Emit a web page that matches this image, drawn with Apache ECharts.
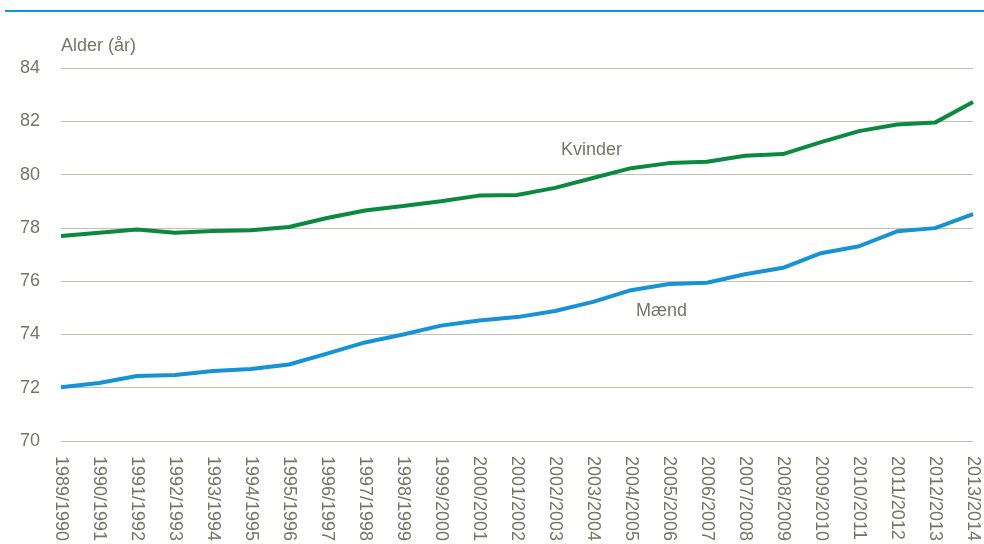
<!DOCTYPE html>
<html>
<head>
<meta charset="utf-8">
<script src="https://cdn.jsdelivr.net/npm/echarts@6/dist/echarts.min.js"></script>
<style>
  html, body { margin: 0; padding: 0; background: #fff; }
  #main { width: 984px; height: 544px; }
</style>
</head>
<body>
<div id="main"></div>
<script type="text/javascript">
    // sæsoner
    var seasons = ['1989/1990', '1990/1991', '1991/1992', '1992/1993', '1993/1994', '1994/1995',
        '1995/1996', '1996/1997', '1997/1998', '1998/1999', '1999/2000', '2000/2001', '2001/2002',
        '2002/2003', '2003/2004', '2004/2005', '2005/2006', '2006/2007', '2007/2008', '2008/2009',
        '2009/2010', '2010/2011', '2011/2012', '2012/2013', '2013/2014'];
    var kvinder = [77.69, 77.82, 77.94, 77.82, 77.88, 77.91, 78.03, 78.37, 78.65, 78.82, 79.0, 79.21,
        79.23, 79.5, 79.87, 80.24, 80.43, 80.48, 80.71, 80.77, 81.22, 81.63, 81.88, 81.95, 82.72];
    var maend = [72.02, 72.18, 72.44, 72.48, 72.63, 72.7, 72.87, 73.28, 73.7, 74.0, 74.33, 74.52,
        74.65, 74.88, 75.22, 75.66, 75.89, 75.94, 76.26, 76.5, 77.05, 77.31, 77.87, 77.99, 78.52];
    var yTicks = [70, 72, 74, 76, 78, 80, 82, 84];

    var font = '"Liberation Sans", Arial, sans-serif';
    var grey = '#75766a';

    var myChart = echarts.init(document.getElementById('main'));
    var option = {
        animation: false,
        textStyle: { fontFamily: font },
        grid: { left: 61, right: 11, top: 68, bottom: 103, containLabel: false, outerBoundsMode: 'none' },
        graphic: [
            { type: 'rect', shape: { x: 5, y: 10, width: 979, height: 2 }, style: { fill: '#0996dc' } },
            { type: 'text', left: 61, top: 37, style: { text: 'Alder (år)', fill: grey, font: '18px ' + font } },
            { type: 'text', left: 561, top: 141, style: { text: 'Kvinder', fill: grey, font: '18px ' + font } },
            { type: 'text', left: 636, top: 302, style: { text: 'Mænd', fill: grey, font: '18px ' + font } }
        ],
        xAxis: {
            type: 'category',
            boundaryGap: false,
            data: seasons,
            axisLine: { show: false },
            axisTick: { show: false },
            axisLabel: {
                interval: 0,
                rotate: -90,
                margin: 15,
                color: grey,
                fontSize: 18,
                fontFamily: font
            }
        },
        yAxis: {
            type: 'value',
            min: yTicks[0],
            max: yTicks[yTicks.length - 1],
            interval: 2,
            axisLine: { show: false },
            axisTick: { show: false },
            axisLabel: { margin: 21, color: grey, fontSize: 18, fontFamily: font },
            splitLine: { lineStyle: { color: '#c4c2b6', width: 1 } }
        },
        series: [
            {
                name: 'Kvinder',
                type: 'line',
                data: kvinder,
                symbol: 'none',
                lineStyle: { color: '#0a8a3e', width: 4 }
            },
            {
                name: 'Mænd',
                type: 'line',
                data: maend,
                symbol: 'none',
                lineStyle: { color: '#1592d8', width: 4 }
            }
        ]
    };
    myChart.setOption(option);
</script>
</body>
</html>
